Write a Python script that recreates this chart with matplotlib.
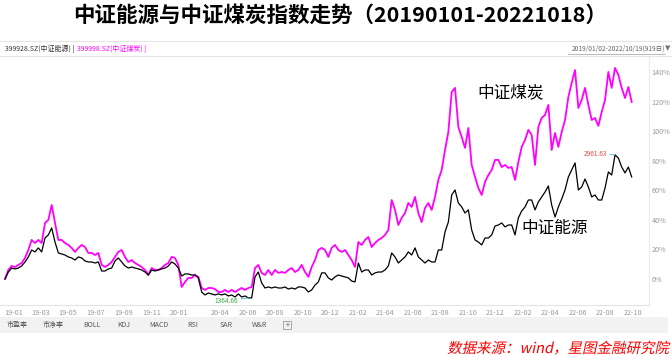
import numpy as np
import pandas as pd
import matplotlib
matplotlib.use("Agg")
import matplotlib.pyplot as plt
from matplotlib.textpath import TextPath
from matplotlib.patches import PathPatch, Rectangle
from matplotlib.font_manager import FontProperties
from matplotlib.transforms import Affine2D, IdentityTransform
from matplotlib.lines import Line2D

plt.rcParams['font.family'] = ['Noto Sans CJK SC', 'DejaVu Sans']

# ---- data (cumulative change %) ----
start_date = "2019-01-02"
end_date = "2022-10-19"

coal_pct = [
    0.0, 6.1, 8.8, 8.1, 9.5, 10.8, 14.2, 19.6, 26.4, 24.3,
    26.4, 24.3, 37.9, 39.9, 50.0, 37.9, 26.4, 26.4, 24.3, 23.0,
    21.0, 18.3, 21.0, 23.0, 21.6, 17.6, 17.6, 16.2, 17.6, 9.5,
    8.1, 9.5, 11.5, 14.9, 18.3, 19.6, 14.9, 11.5, 12.8, 10.8,
    9.5, 8.1, 6.1, 2.7, 7.4, 6.1, 6.1, 7.4, 9.5, 10.8,
    14.9, 14.2, 9.5, -5.4, -2.0, 0.7, 0.7, 2.7, 1.4, -6.1,
    -7.4, -6.1, -6.1, -6.8, -8.8, -8.8, -7.4, -8.8, -7.4, -8.8,
    -7.4, -6.1, -7.4, -6.1, -5.4, 7.4, 9.5, 4.1, 2.7, 6.1,
    2.7, 6.1, 4.1, 4.7, 4.1, 6.1, 7.4, 4.7, 6.1, 9.5,
    4.7, 1.4, 8.1, 12.8, 19.6, 21.0, 19.6, 14.9, 21.0, 23.0,
    19.6, 18.3, 19.6, 16.2, 12.8, 8.1, 25.0, 23.0, 26.4, 28.4,
    21.6, 24.3, 26.4, 27.7, 29.8, 33.1, 53.4, 46.7, 36.5, 41.3,
    44.6, 51.4, 48.7, 55.5, 44.6, 38.5, 48.0, 51.4, 46.7, 55.5,
    67.0, 73.7, 87.2, 99.4, 126.4, 129.2, 102.8, 96.0, 88.6, 102.1,
    77.1, 69.0, 61.5, 56.8, 65.6, 70.3, 73.7, 80.5, 80.5, 75.7,
    77.1, 75.1, 75.7, 67.0, 79.1, 89.3, 94.0, 100.8, 97.4, 77.1,
    102.8, 108.9, 110.9, 117.7, 87.2, 98.7, 89.3, 99.4, 107.5, 123.1,
    132.6, 141.3, 115.6, 121.1, 129.2, 117.7, 107.5, 108.9, 103.5, 112.9,
    121.1, 140.0, 129.2, 142.7, 138.0, 129.2, 122.4, 129.8, 119.7,
]

energy_pct = [
    0.0, 4.7, 7.4, 6.8, 7.4, 8.8, 11.5, 14.9, 19.6, 18.3,
    21.0, 18.3, 27.7, 29.8, 34.5, 25.0, 17.6, 16.9, 16.2, 14.9,
    14.2, 12.8, 14.9, 14.2, 12.2, 11.5, 11.5, 10.8, 11.5, 5.4,
    5.4, 6.8, 7.4, 12.2, 14.2, 11.5, 8.8, 7.4, 8.1, 7.4,
    6.8, 6.1, 4.7, 2.7, 6.1, 5.4, 6.1, 6.8, 7.4, 8.8,
    11.5, 10.1, 7.4, 2.0, 3.4, 3.4, 2.7, 2.7, 0.7, -8.8,
    -10.8, -9.5, -10.1, -10.8, -10.1, -10.8, -10.1, -11.5, -10.8, -12.2,
    -10.1, -12.2, -11.5, -12.8, -12.8, 1.4, 4.7, -2.7, -6.1, -5.4,
    -6.1, -5.4, -6.1, -6.1, -5.4, -6.8, -6.1, -6.8, -5.4, -5.4,
    -6.1, -8.8, -7.4, -4.1, -2.0, 4.1, 4.1, 0.7, -0.7, 1.4,
    2.7, 2.0, 1.4, 0.7, -1.4, -2.0, 10.8, 4.7, 6.1, 6.1,
    2.7, 4.1, 4.7, 4.7, 6.1, 8.8, 17.6, 14.9, 10.8, 12.8,
    14.9, 18.3, 16.2, 21.0, 14.9, 12.8, 10.8, 12.8, 11.5, 11.5,
    19.6, 19.6, 31.8, 38.5, 56.8, 60.2, 51.4, 48.7, 44.6, 46.7,
    33.1, 26.4, 25.0, 23.0, 27.7, 27.7, 29.8, 35.8, 36.5, 37.9,
    35.2, 36.5, 36.5, 29.8, 41.3, 46.0, 48.7, 53.4, 53.4, 46.7,
    52.1, 55.5, 58.8, 62.9, 50.0, 41.9, 48.7, 54.1, 60.2, 69.0,
    73.7, 78.5, 60.2, 62.2, 67.6, 62.2, 55.5, 56.8, 53.4, 53.4,
    61.5, 72.4, 70.3, 83.9, 81.8, 75.7, 71.7, 75.7, 69.0,
]

energy_low_label = "1364.66"
energy_high_label = "2961.63"

tick_months = ["2019-01", "2019-03", "2019-05", "2019-07", "2019-09", "2019-11",
               "2020-01", "2020-04", "2020-06", "2020-08", "2020-10", "2020-12",
               "2021-02", "2021-04", "2021-06", "2021-08", "2021-10", "2021-12",
               "2022-02", "2022-04", "2022-06", "2022-08", "2022-10"]
ytick_vals = [0, 20, 40, 60, 80, 100, 120, 140]

tabs = ["市盈率", "市净率", "BOLL", "KDJ", "MACD", "RSI", "SAR", "W&R"]
tab_x = [7, 43, 83, 117, 149, 187, 220, 252]

title = "中证能源与中证煤炭指数走势（20190101-20221018）"
source_text = "数据来源：wind，星图金融研究院"

# ---- layout helpers (pixel based) ----
W, H = 672, 358
fig = plt.figure(figsize=(W / 100, H / 100), dpi=100)
fig.patch.set_facecolor("white")


def fx(x):
    return x / W


def fy(y):
    return 1 - y / H


def hline(y, x0, x1, color="#e6e6e6", lw=0.8, ls="-"):
    fig.add_artist(Line2D([fx(x0), fx(x1)], [fy(y), fy(y)], color=color,
                          lw=lw, ls=ls, transform=fig.transFigure))


top_px, bot_px, right_px = 57, 305, 649
ax = fig.add_axes([0, fy(bot_px), fx(right_px), (bot_px - top_px) / H])

dates = pd.date_range(start_date, end_date, periods=len(coal_pct))
energy = np.array(energy_pct)

ax.plot(dates, energy_pct, color="black", lw=0.9, zorder=3)
ax.plot(dates, coal_pct, color="#ff00ff", lw=1.3, zorder=2)

px_per_day = (631.7 - 5) / (dates[-1] - dates[0]).days
ax.set_xlim(dates[0] - pd.Timedelta(days=5 / px_per_day),
            dates[-1] + pd.Timedelta(days=(right_px - 631.7) / px_per_day))
ax.set_ylim(-17.6, 150.1)

ax.set_xticks(pd.to_datetime(tick_months))
ax.set_xticklabels([m[2:] for m in tick_months], ha="left")
ax.set_yticks(ytick_vals)
ax.set_yticklabels([f"{v}%" for v in ytick_vals])
ax.yaxis.tick_right()
ax.tick_params(axis="both", length=0, colors="#9a9a9a", labelsize=5.2)
ax.tick_params(axis="x", pad=3)
ax.tick_params(axis="y", pad=2)
for s in ["top", "left"]:
    ax.spines[s].set_visible(False)
ax.spines["right"].set_color("#ececec")
ax.spines["bottom"].set_color("#e4e4e4")
ax.spines["bottom"].set_linestyle((0, (1, 1)))

# min / max labels of the energy index
i_lo, i_hi = int(np.argmin(energy)), int(np.argmax(energy))
ax.annotate(energy_low_label, xy=(dates[i_lo], energy[i_lo]),
            xytext=(-10, -3), textcoords="offset pixels", ha="right",
            va="center", color="#3aa64a", fontsize=4.7,
            arrowprops=dict(arrowstyle="-", color="#39b1d6", lw=0.6,
                            shrinkA=0, shrinkB=0), zorder=5)
ax.annotate(energy_high_label, xy=(dates[i_hi], energy[i_hi]),
            xytext=(-8, 1), textcoords="offset pixels", ha="right",
            va="center", color="#e8453c", fontsize=4.7,
            arrowprops=dict(arrowstyle="-", color="#39b1d6", lw=0.6,
                            shrinkA=0, shrinkB=0), zorder=5)

# series labels inside the plot
ax.text(pd.Timestamp("2021-11-11"), 125.8, "中证煤炭", fontsize=12,
        ha="left", va="center", color="black")
ax.text(pd.Timestamp("2022-02-18"), 34.5, "中证能源", fontsize=12,
        ha="left", va="center", color="black")

# ---- title and header ----
fig.text(fx(340), fy(15), title, ha="center", va="center", fontsize=15.5,
         fontweight="bold")

hline(41, 0, 672)
hline(56, 0, 672)
fig.text(fx(5), fy(49), "399928.SZ(中证能源) |", fontsize=5,
         color="#333333", va="center")
fig.text(fx(77), fy(49), "399998.SZ(中证煤炭) |", fontsize=5,
         color="#ff00ff", va="center")
fig.text(fx(665), fy(49), "2019/01/02-2022/10/19(919日)", fontsize=4.8,
         color="#666666", va="center", ha="right")
hline(53.5, 568, 665, color="#888888", lw=0.4)
fig.text(fx(668), fy(48), "▼", fontsize=5, color="#777777", va="center",
         ha="center", family="DejaVu Sans")

# ---- bottom tab bar ----
fig.add_artist(Rectangle((0, fy(333)), fx(668), (333 - 317) / H,
                         transform=fig.transFigure, fc="#f2f2f2", ec="none"))
for name, x in zip(tabs, tab_x):
    fig.text(fx(x), fy(325), name, fontsize=5, color="#555555", va="center")
fig.add_artist(Rectangle((fx(283), fy(329)), fx(8), 8 / H,
                         transform=fig.transFigure, fc="none", ec="#888888",
                         lw=0.5))
fig.text(fx(287), fy(325), "+", fontsize=5, color="#777777", va="center",
         ha="center", family="DejaVu Sans")

# ---- source line (italic look via skewed text path) ----
tp = TextPath((0, 0), source_text, size=14.5,
              prop=FontProperties(family="Noto Sans CJK SC"))
width = tp.get_extents().width
trans = Affine2D().skew_deg(12, 0).translate(668 - width, H - 353)
fig.add_artist(PathPatch(tp, transform=trans + IdentityTransform(),
                         fc="#ff0000", ec="none"))

fig.savefig("out.png", dpi=100)
